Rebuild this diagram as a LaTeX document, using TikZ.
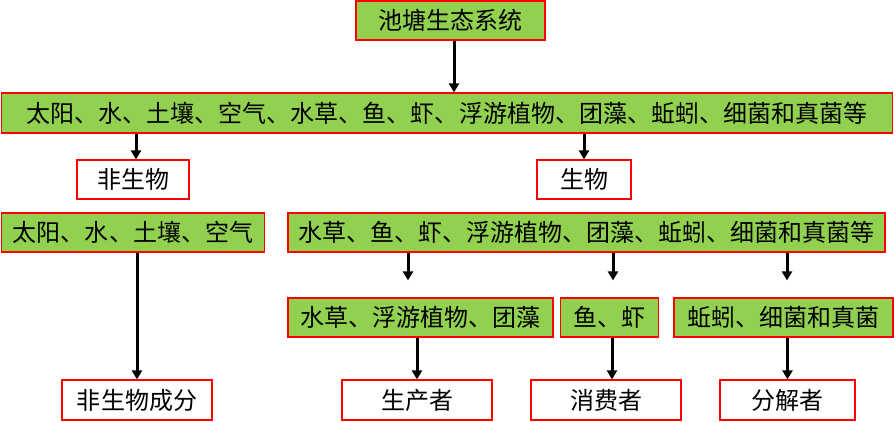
\documentclass[tikz,border=0pt]{standalone}
\usepackage{fontspec}
\newfontfamily\cjk{Noto Sans CJK SC}
\usetikzlibrary{arrows.meta, calc}
\definecolor{leaf}{HTML}{92D050}
\tikzset{
  greenbox/.style={rectangle, draw=red, fill=leaf, line width=1.2bp,
                   minimum height=39bp, inner sep=0pt,
                   font=\cjk\fontsize{24bp}{28bp}\selectfont},
  whitebox/.style={greenbox, fill=white},
  arrow/.style={-{Triangle[width=10bp, length=9bp]}, line width=3bp, draw=black},
}

\begin{document}
\begin{tikzpicture}[x=1bp, y=-1bp]
  \useasboundingbox (0,0) rectangle (894,421);

  % top levels
  \node [greenbox, minimum width=189bp] (pond) at (450.5,20.5) {池塘生态系统};
  \node [greenbox, minimum width=891bp, minimum height=40bp] (all) at (447,113)
        {太阳、水、土壤、空气、水草、鱼、虾、浮游植物、团藻、蚯蚓、细菌和真菌等};
  \node [whitebox, minimum width=112bp] (abio) at (133,179.5) {非生物};
  \node [whitebox, minimum width=94bp] (bio) at (584,179.5) {生物};

  % lists
  \node [greenbox, minimum width=263bp] (abiolist) at (133,232.5) {太阳、水、土壤、空气};
  \node [greenbox, minimum width=597bp] (biolist) at (586.5,232.5)
        {水草、鱼、虾、浮游植物、团藻、蚯蚓、细菌和真菌等};
  \node [greenbox, minimum width=265bp] (plant) at (420.5,317.5) {水草、浮游植物、团藻};
  \node [greenbox, minimum width=98bp] (animal) at (609.7,317.5) {鱼、虾};
  \node [greenbox, minimum width=219bp] (decomp) at (783.5,317.5) {蚯蚓、细菌和真菌};

  % roles
  \node [whitebox, minimum width=150bp, minimum height=40bp] (abioPart) at (137,400) {非生物成分};
  \node [whitebox, minimum width=150bp, minimum height=40bp] (producer) at (417,400) {生产者};
  \node [whitebox, minimum width=150bp, minimum height=40bp] (consumer) at (606,400) {消费者};
  \node [whitebox, minimum width=135bp, minimum height=40bp] (decomposer) at (787.5,400) {分解者};

  \draw [arrow] ([xshift=3.5bp]pond.south) -- ([xshift=3.5bp]pond.south |- all.north);
  \draw [arrow] ([xshift=3bp]abio.north |- all.south) -- ([xshift=3bp]abio.north);
  \draw [arrow] (bio.north |- all.south) -- (bio.north);

  \draw [arrow, shorten >=17bp] ([xshift=-12.5bp]plant.north |- biolist.south) -- ([xshift=-12.5bp]plant.north);
  \draw [arrow, shorten >=17bp] ([xshift=3.3bp]animal.north |- biolist.south) -- ([xshift=3.3bp]animal.north);
  \draw [arrow, shorten >=17bp] ([xshift=3.5bp]decomp.north |- biolist.south) -- ([xshift=3.5bp]decomp.north);

  \draw [arrow] (abioPart.north |- abiolist.south) -- (abioPart.north);
  \draw [arrow] (producer.north |- plant.south) -- (producer.north);
  \draw [arrow] ([xshift=6bp]consumer.north |- animal.south) -- ([xshift=6bp]consumer.north);
  \draw [arrow] (decomposer.north |- decomp.south) -- (decomposer.north);
\end{tikzpicture}
\end{document}
